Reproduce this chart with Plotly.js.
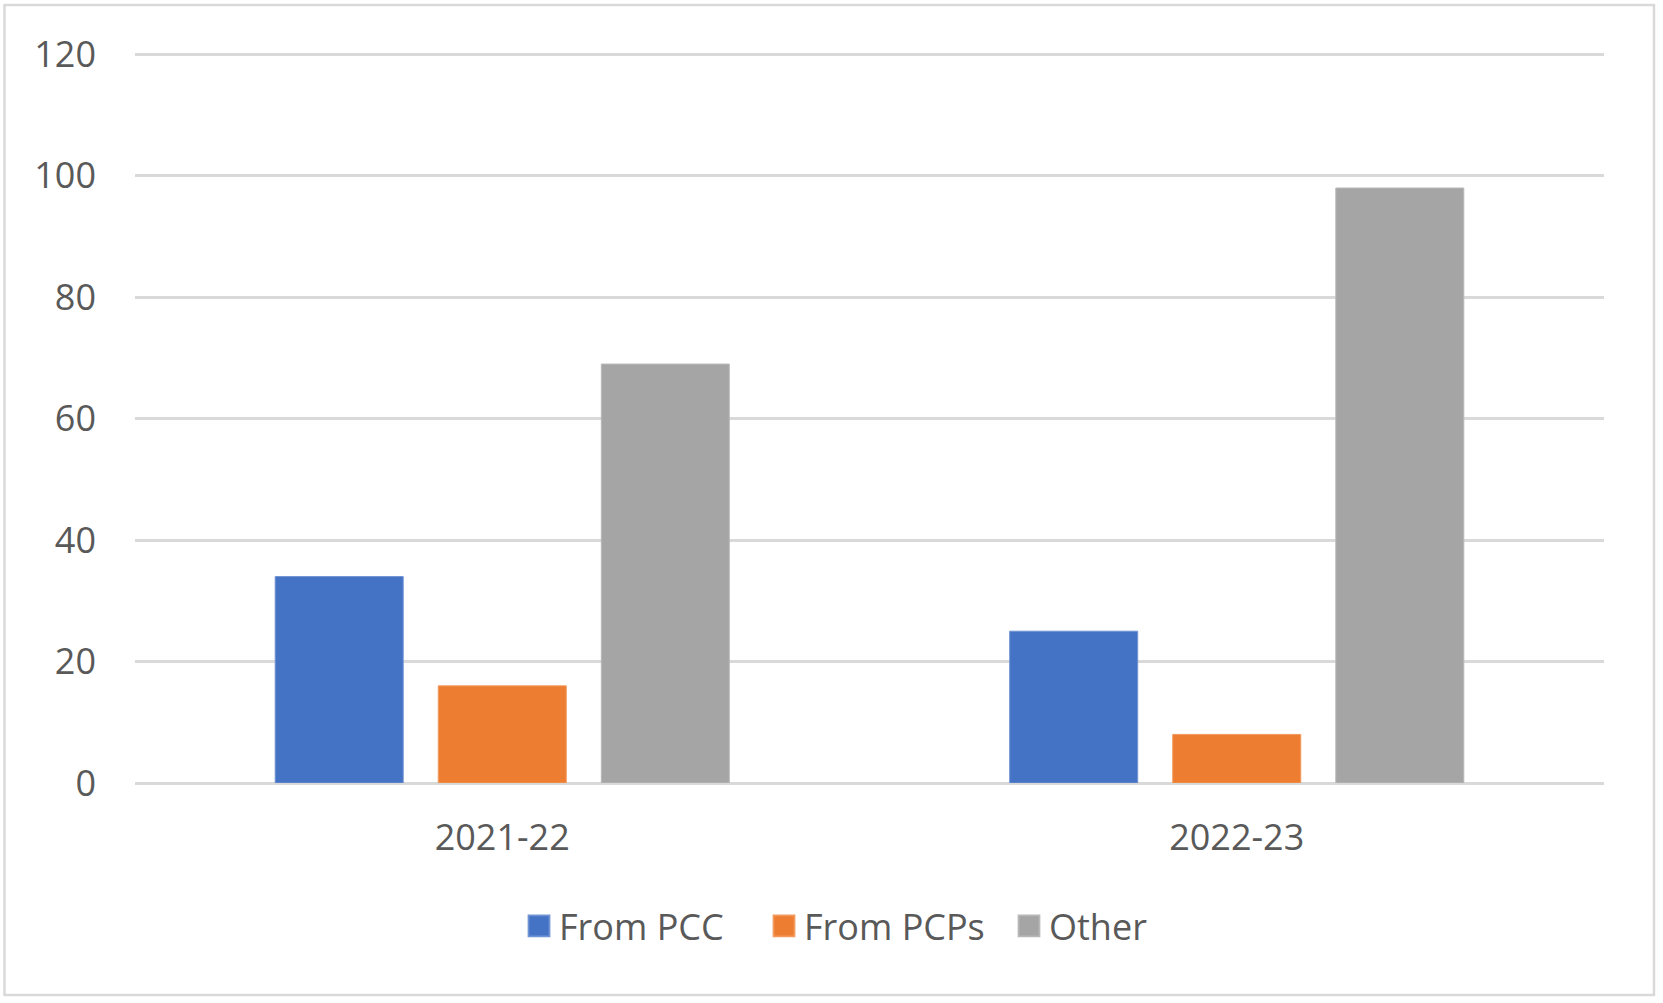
<!DOCTYPE html>
<html>
<head>
<meta charset="utf-8">
<script src="https://cdn.plot.ly/plotly-3.0.1.min.js"></script>
<style>html,body{margin:0;padding:0;background:#fff;}#chart{width:1663px;height:1003px;}</style>
</head>
<body>
<div id="chart"></div>
<script>
const categories = ["2021-22", "2022-23"];
const seriesNames = ["From PCC", "From PCPs", "Other"];
const fromPCC = [34, 25];
const fromPCPs = [16, 8];
const other = [69, 98];
const yTicks = [0, 20, 40, 60, 80, 100, 120];

const colors = ["#4472C4", "#ED7D31", "#A5A5A5"];
const lineColors = ["#6F93D3", "#F29A5E", "#B8B8B8"];
const values = [fromPCC, fromPCPs, other];

const traces = values.map((v, i) => ({
  type: "bar",
  name: seriesNames[i],
  x: categories,
  y: v,
  marker: {color: colors[i], line: {color: lineColors[i], width: 1}},
  hoverinfo: "x+y+name"
}));

const L = 135, R = 59, T = 52.1, B = 220;
const W = 1663, H = 1003;
const pw = W - L - R, ph = H - T - B;
const px = v => (v - L) / pw;
const py = v => (H - B - v) / ph;

const layout = {
  width: W, height: H,
  margin: {l: L, r: R, t: T, b: B, pad: 0},
  paper_bgcolor: "#ffffff",
  plot_bgcolor: "#ffffff",
  font: {family: "Open Sans, Noto Sans, sans-serif", color: "#595959", size: 36},
  barmode: "group",
  bargap: 0.334,
  bargroupgap: 0.215,
  showlegend: true,
  legend: {
    orientation: "h",
    x: px(519), xanchor: "left",
    y: py(926), yanchor: "middle",
    entrywidthmode: "pixels",
    entrywidth: 200,
    font: {size: 36, color: "#595959"},
    itemclick: false, itemdoubleclick: false
  },
  xaxis: {
    type: "category",
    showgrid: false,
    showline: false,
    zeroline: false,
    ticks: "",
    ticklabelstandoff: 30,
    tickfont: {size: 36, color: "#595959"}
  },
  yaxis: {
    range: [0, 120.4],
    tickvals: yTicks,
    ticktext: yTicks.map(String),
    showgrid: true,
    gridcolor: "#d9d9d9",
    gridwidth: 2.5,
    zeroline: true,
    zerolinecolor: "#d9d9d9",
    zerolinewidth: 3,
    showline: false,
    ticks: "",
    ticklabelstandoff: 38,
    tickfont: {size: 36, color: "#595959"}
  },
  shapes: [{
    type: "rect", xref: "paper", yref: "paper",
    x0: px(4.5), x1: px(1654), y0: py(995), y1: py(5),
    line: {color: "#d9d9d9", width: 2.5},
    fillcolor: "rgba(0,0,0,0)",
    layer: "below"
  }]
};

function enlargeLegendIcons() {
  document.querySelectorAll("#chart .legend .legendpoints path").forEach(p => {
    const orig = p.getAttribute("data-orig-transform") !== null
      ? p.getAttribute("data-orig-transform")
      : (p.getAttribute("transform") || "");
    p.setAttribute("data-orig-transform", orig);
    p.setAttribute("transform", (orig + " scale(1.75)").trim());
  });
}

Plotly.newPlot("chart", traces, layout, {displayModeBar: false}).then(gd => {
  enlargeLegendIcons();
  gd.on("plotly_afterplot", enlargeLegendIcons);
});
</script>
</body>
</html>
